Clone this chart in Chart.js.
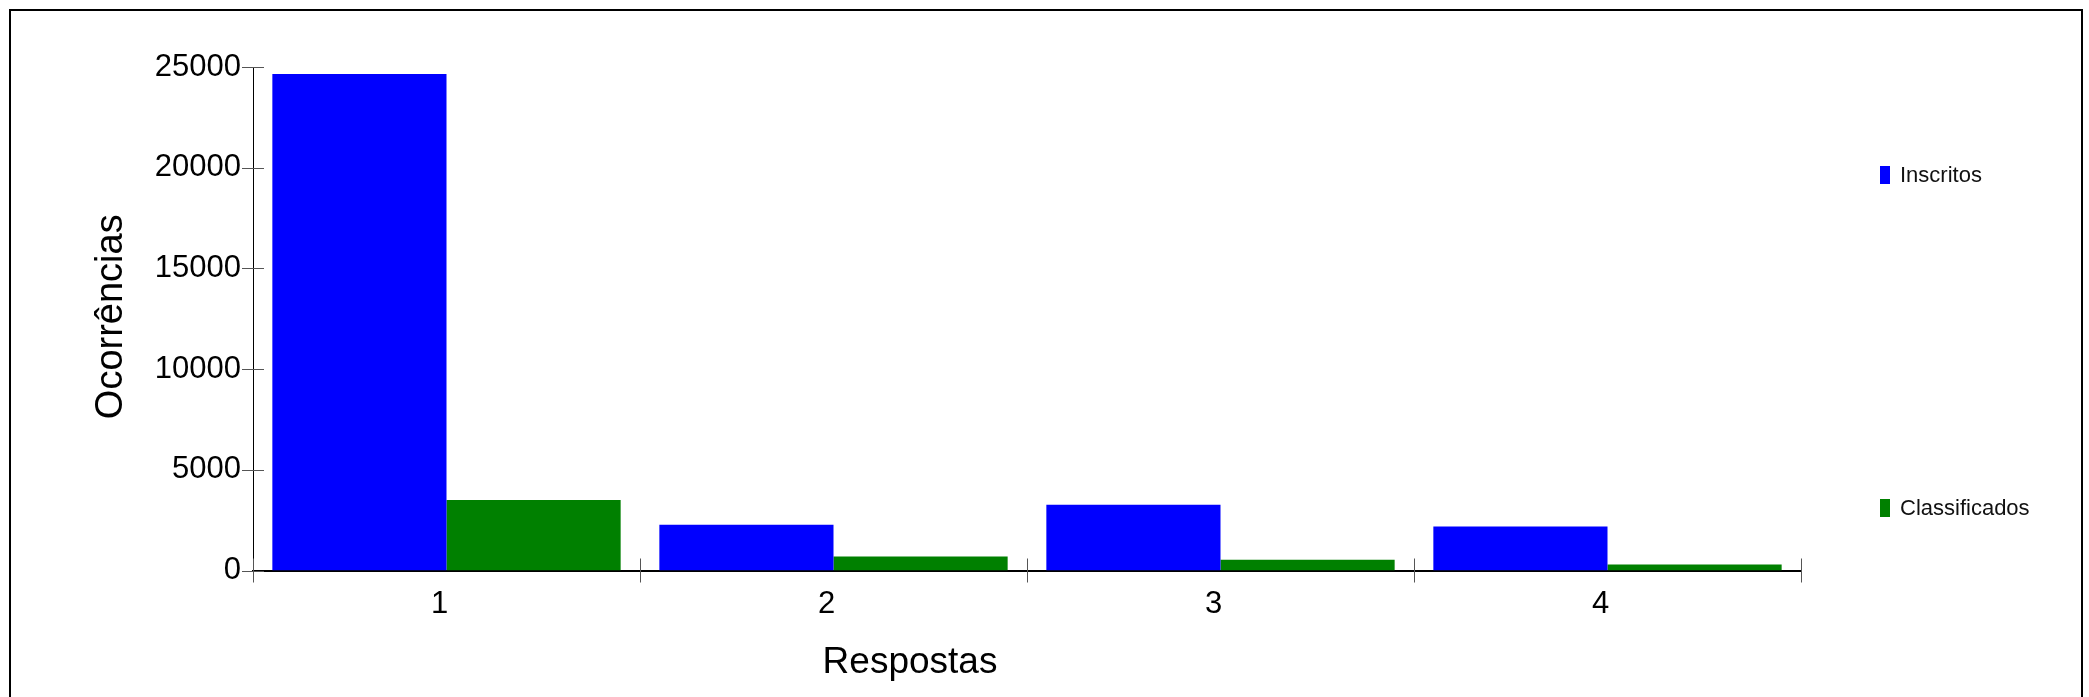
<!DOCTYPE html>
<html>
<head>
<meta charset="utf-8">
<title>Respostas</title>
<script src="https://cdn.jsdelivr.net/npm/chart.js@4.4.1/dist/chart.umd.min.js"></script>
<style>
  html, body { margin: 0; padding: 0; background: #fff; }
  #wrap { position: relative; width: 2089px; height: 697px; }
</style>
</head>
<body>
<div id="wrap"><canvas id="chart" width="2089" height="697"></canvas></div>
<script>
// Data
const respostas = ['1', '2', '3', '4'];
const inscritos = [24650, 2270, 3260, 2190];
const classificados = [3500, 700, 530, 300];
const seriesNames = ['Inscritos', 'Classificados'];
const yTickMax = 25000;
const yTickStep = 5000;

const FONT = '"Liberation Sans", Arial, sans-serif';

// frame, crossing tick marks, axis titles and the spread-out legend
const decorations = {
  id: 'decorations',
  beforeDraw(chart) {
    const c = chart.ctx;
    c.save();
    c.fillStyle = '#fff';
    c.fillRect(0, 0, chart.width, chart.height);
    c.strokeStyle = '#000';
    c.lineWidth = 2;
    c.strokeRect(10, 10, 2072, 720);
    c.restore();
  },
  afterDraw(chart) {
    const c = chart.ctx;
    const x = chart.scales.x;
    const y = chart.scales.y;
    c.save();

    // y ticks cross the axis
    c.strokeStyle = '#555';
    c.lineWidth = 1;
    y.ticks.forEach(t => {
      const py = Math.round(y.getPixelForValue(t.value)) + 0.5;
      c.beginPath();
      c.moveTo(x.left - 11, py);
      c.lineTo(x.left + 11, py);
      c.stroke();
    });

    // x ticks at category boundaries
    for (let i = 0; i <= respostas.length; i++) {
      const px = Math.round(x.getPixelForValue(i - 0.5)) + 0.5;
      c.beginPath();
      c.moveTo(px, y.bottom - 12);
      c.lineTo(px, y.bottom + 12);
      c.stroke();
    }

    // axis titles
    c.fillStyle = '#000';
    c.textAlign = 'center';
    c.textBaseline = 'middle';
    c.font = '37px ' + FONT;
    c.fillText('Respostas', 910, 663);
    c.save();
    c.translate(112, (y.top + y.bottom) / 2 - 2);
    c.rotate(-Math.PI / 2);
    c.font = '38px ' + FONT;
    c.fillText('Ocorrências', 0, 0);
    c.restore();

    // legend
    const legendY = [175, 508];
    c.font = '22px ' + FONT;
    c.textAlign = 'left';
    chart.data.datasets.forEach((ds, i) => {
      c.fillStyle = ds.backgroundColor;
      c.fillRect(1880, legendY[i] - 9, 10, 18);
      c.fillStyle = '#111';
      c.fillText(ds.label, 1900, legendY[i] + 1);
    });
    c.restore();
  }
};

new Chart(document.getElementById('chart'), {
  type: 'bar',
  data: {
    labels: respostas,
    datasets: [
      { label: seriesNames[0], data: inscritos, backgroundColor: '#0000ff', borderWidth: 0 },
      { label: seriesNames[1], data: classificados, backgroundColor: '#008000', borderWidth: 0 }
    ]
  },
  options: {
    responsive: false,
    animation: false,
    events: [],
    categoryPercentage: 0.9,
    barPercentage: 1.0,
    layout: { padding: { top: 67, right: 288, bottom: 0, left: 0 } },
    plugins: {
      legend: { display: false },
      tooltip: { enabled: false }
    },
    scales: {
      x: {
        offset: true,
        grid: { display: false, drawTicks: false },
        border: { display: true, color: '#000', width: 2 },
        ticks: { color: '#000', padding: 15, labelOffset: -7, font: { family: FONT, size: 31 } },
        afterFit(scale) { scale.height = 126.5; }
      },
      y: {
        min: 0,
        max: yTickMax,
        grid: { display: false, drawTicks: false },
        border: { display: true, color: '#000', width: 1 },
        ticks: {
          stepSize: yTickStep,
          color: '#000',
          padding: 12,
          font: { family: FONT, size: 31 },
          callback: v => String(v)
        },
        afterFit(scale) { scale.width = 253; }
      }
    }
  },
  plugins: [decorations]
});
</script>
</body>
</html>
